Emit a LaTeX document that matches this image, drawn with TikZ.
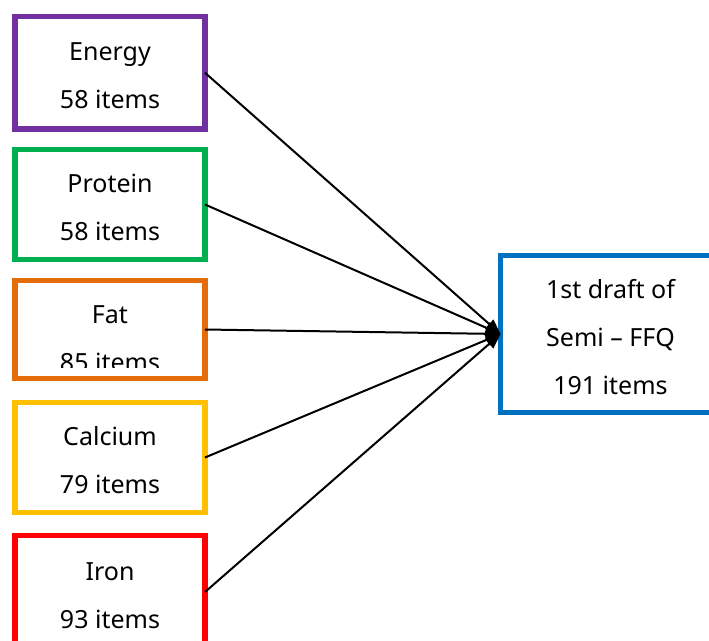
\documentclass[tikz,border=0pt]{standalone}
\usepackage{fontspec}
\setmainfont{Noto Sans}
\usetikzlibrary{arrows.meta}

\definecolor{energycol}{RGB}{112,48,160}
\definecolor{proteincol}{RGB}{0,176,80}
\definecolor{fatcol}{RGB}{228,108,10}
\definecolor{calciumcol}{RGB}{255,192,0}
\definecolor{ironcol}{RGB}{255,0,0}
\definecolor{draftcol}{RGB}{0,112,192}

\begin{document}
\begin{tikzpicture}[x=1pt, y=-1pt,
        box/.style={draw, line width=5.5pt, outer sep=0pt, inner sep=0pt, minimum width=190pt,
            align=center, text height=72pt, text depth=0pt, font=\fontsize{25}{48}\selectfont},
        link/.style={line width=2pt, -{Triangle[length=15pt, width=12pt]}}]

        \useasboundingbox (0, 0) rectangle (709, 640);
        \clip (0, 0) rectangle (709, 640);

        \node[box, draw=energycol, minimum height=112.5pt] (energy) at (110, 72.75) {Energy\\58 items};
        \node[box, draw=proteincol, minimum height=110pt] (protein) at (110, 204.5) {Protein\\58 items};
        \node[box, draw=fatcol, minimum height=98pt] (fat) at (110, 329.5) {};
        \node[box, draw=calciumcol, minimum height=110pt] (calcium) at (110, 457.5) {Calcium\\79 items};
        \node[box, draw=ironcol, minimum height=113pt] (iron) at (110, 592) {Iron\\93 items};

        % text of the fat box is cut off at the bottom
        \begin{scope}
            \clip (20, 285) rectangle (200, 367);
            \node[box, draw=none] (fattext) at (110, 335) {Fat\\85 items};
        \end{scope}

        \node[box, draw=draftcol, minimum width=220pt, minimum height=157pt, text height=121pt] (draft) at (610.5, 334) {1st draft of\\Semi – FFQ\\191 items};

        \foreach \src in {energy, protein, fat, calcium, iron} {
            \draw[link] (\src.east) -- (draft.west);
        }
    \end{tikzpicture}
\end{document}
